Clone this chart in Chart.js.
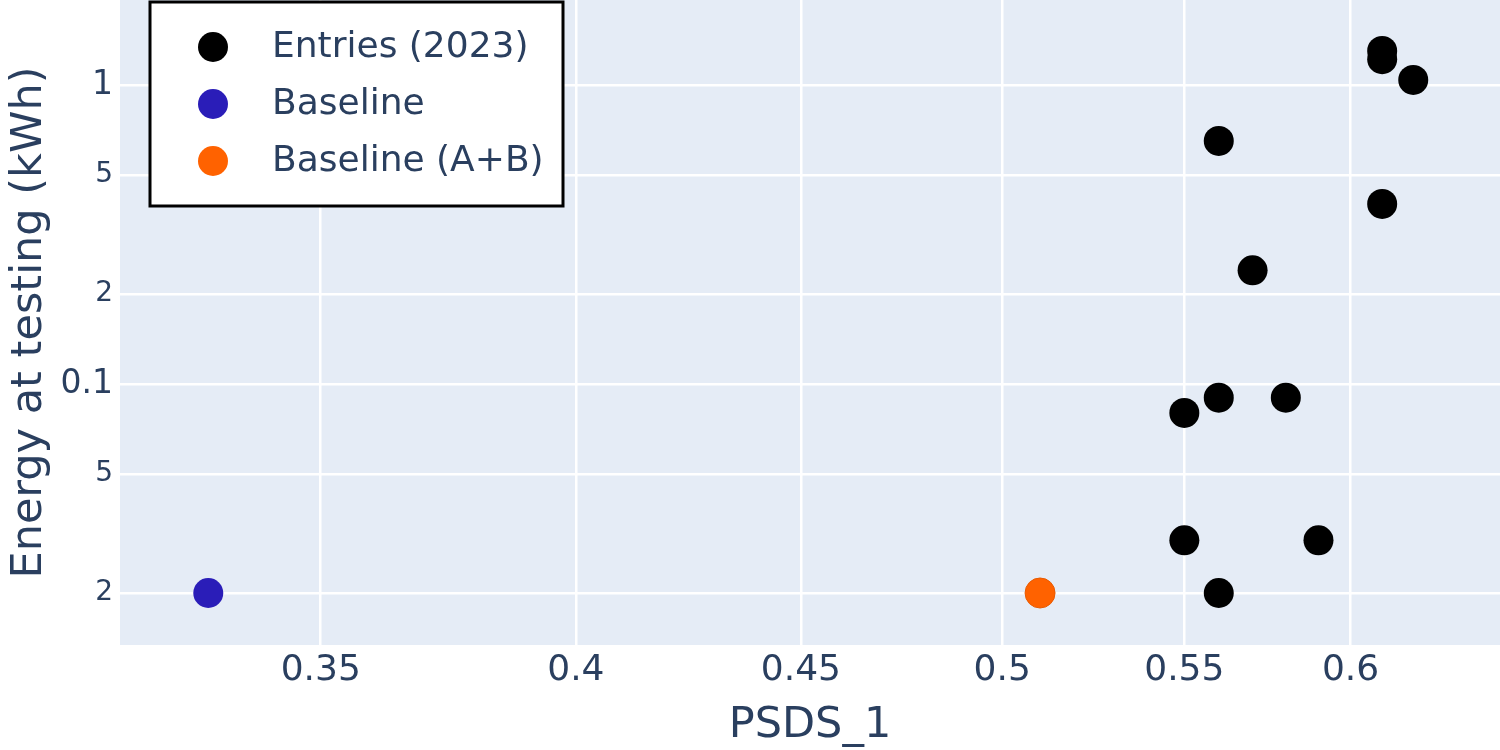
<!DOCTYPE html>
<html>
<head>
<meta charset="utf-8">
<script src="https://cdn.jsdelivr.net/npm/chart.js@4.4.1/dist/chart.umd.min.js"></script>
<style>
  html, body { margin:0; padding:0; background:#fff; }
  #wrap { width:1500px; height:750px; }
</style>
</head>
<body>
<div id="wrap"><canvas id="chartEnergy" width="1500" height="750"></canvas></div>
<script>
// PSDS_1 vs energy
const entriesX = [0.61, 0.61, 0.62, 0.56, 0.61, 0.57, 0.56, 0.58, 0.55, 0.55, 0.59, 0.56];
const entriesY = [1.30, 1.22, 1.04, 0.65, 0.40, 0.24, 0.09, 0.09, 0.08, 0.03, 0.03, 0.02];

const baselineX = [0.33];
const baselineY = [0.02];

const baselineABX = [0.51];
const baselineABY = [0.02];

const seriesNames = ["Entries (2023)", "Baseline", "Baseline (A+B)"];

const xTicks = [0.35, 0.4, 0.45, 0.5, 0.55, 0.6];
const xTickLabels = ["0.35", "0.4", "0.45", "0.5", "0.55", "0.6"];

const yTicks = [0.02, 0.05, 0.1, 0.2, 0.5, 1];
const yTickLabels = ["2", "5", "0.1", "2", "5", "1"];
const yMajor = [0.1, 1];

const FONT = "DejaVu Sans";
const TXT = "#2a3f5f";

function toPoints(xs, ys){
    return xs.map((x,i)=>({x:x, y:ys[i]}));
}

const plotBg = {
    id:"plotBg",
    beforeDraw(chart){
        const {ctx, chartArea:a} = chart;
        ctx.save();
        ctx.fillStyle = "#e5ecf6";
        ctx.fillRect(a.left, a.top, a.right-a.left, a.bottom-a.top);
        ctx.restore();
    }
};

// legend box drawn inside the plot, top left
const innerLegend = {
    id:"innerLegend",
    afterDraw(chart){
        const ctx = chart.ctx;
        const a = chart.chartArea;
        const x0 = a.left + 30, y0 = a.top + 2;
        const w = 413, h = 204;
        ctx.save();
        ctx.fillStyle = "#ffffff";
        ctx.fillRect(x0, y0, w, h);
        ctx.lineWidth = 3;
        ctx.strokeStyle = "#000000";
        ctx.strokeRect(x0, y0, w, h);
        ctx.font = "36px '" + FONT + "'";
        ctx.textBaseline = "middle";
        chart.data.datasets.forEach((ds,i)=>{
            const cy = y0 + 45 + i*57;
            ctx.beginPath();
            ctx.arc(x0 + 63, cy, 15, 0, Math.PI*2);
            ctx.fillStyle = ds.backgroundColor;
            ctx.fill();
            ctx.fillStyle = TXT;
            ctx.fillText(ds.label, x0 + 122, cy + 1);
        });
        ctx.restore();
    }
};

const canvas = document.getElementById("chartEnergy");

new Chart(canvas,{

    type:"scatter",

    data:{
        datasets:[
            {
                label:seriesNames[0],
                data:toPoints(entriesX, entriesY),
                backgroundColor:"#000000",
                borderColor:"#000000",
                pointRadius:15,
                pointBorderWidth:0
            },
            {
                label:seriesNames[1],
                data:toPoints(baselineX, baselineY),
                backgroundColor:"#2a1db8",
                borderColor:"#2a1db8",
                pointRadius:15,
                pointBorderWidth:0
            },
            {
                label:seriesNames[2],
                data:toPoints(baselineABX, baselineABY),
                backgroundColor:"#ff6200",
                borderColor:"#e85a00",
                pointRadius:15,
                pointBorderWidth:1
            }
        ]
    },

    options:{
        responsive:false,
        devicePixelRatio:1,
        animation:false,
        layout:{ padding:0, autoPadding:false },

        plugins:{
            legend:{ display:false },
            tooltip:{ enabled:false }
        },

        scales:{

            x:{
                type:"logarithmic",
                min:0.3151,
                max:0.6488,
                afterBuildTicks(scale){
                    scale.ticks = xTicks.map(v=>({value:v}));
                },
                afterFit(scale){
                    scale.height = 105;
                    scale.paddingLeft = 0;
                    scale.paddingRight = 0;
                },
                grid:{ color:"#ffffff", lineWidth:2.5, drawTicks:false },
                border:{ display:false },
                ticks:{
                    padding:4,
                    color:TXT,
                    font:{ family:FONT, size:36 },
                    maxRotation:0,
                    autoSkip:false,
                    callback(value){
                        const i = xTicks.indexOf(value);
                        return i >= 0 ? xTickLabels[i] : "";
                    }
                },
                title:{
                    display:true,
                    text:"PSDS_1",
                    color:TXT,
                    font:{ family:FONT, size:43, lineHeight:1 },
                    padding:{ top:0, bottom:3 }
                }
            },

            y:{
                type:"logarithmic",
                min:0.0134,
                max:1.924,
                afterBuildTicks(scale){
                    scale.ticks = yTicks.map(v=>({value:v}));
                },
                afterFit(scale){
                    scale.width = 120;
                    scale.paddingTop = 0;
                    scale.paddingBottom = 0;
                },
                grid:{ color:"#ffffff", lineWidth:2.5, drawTicks:false },
                border:{ display:false },
                ticks:{
                    padding:7,
                    color:TXT,
                    autoSkip:false,
                    font(ctx){
                        const v = ctx.tick ? ctx.tick.value : 1;
                        return { family:FONT, size: yMajor.includes(v) ? 33 : 28 };
                    },
                    callback(value){
                        const i = yTicks.indexOf(value);
                        return i >= 0 ? yTickLabels[i] : "";
                    }
                },
                title:{
                    display:true,
                    text:"Energy at testing (kWh)",
                    color:TXT,
                    font:{ family:FONT, size:43, lineHeight:1 },
                    padding:{ top:8, bottom:0 }
                }
            }
        }
    },

    plugins:[plotBg, innerLegend]
});
</script>
</body>
</html>
